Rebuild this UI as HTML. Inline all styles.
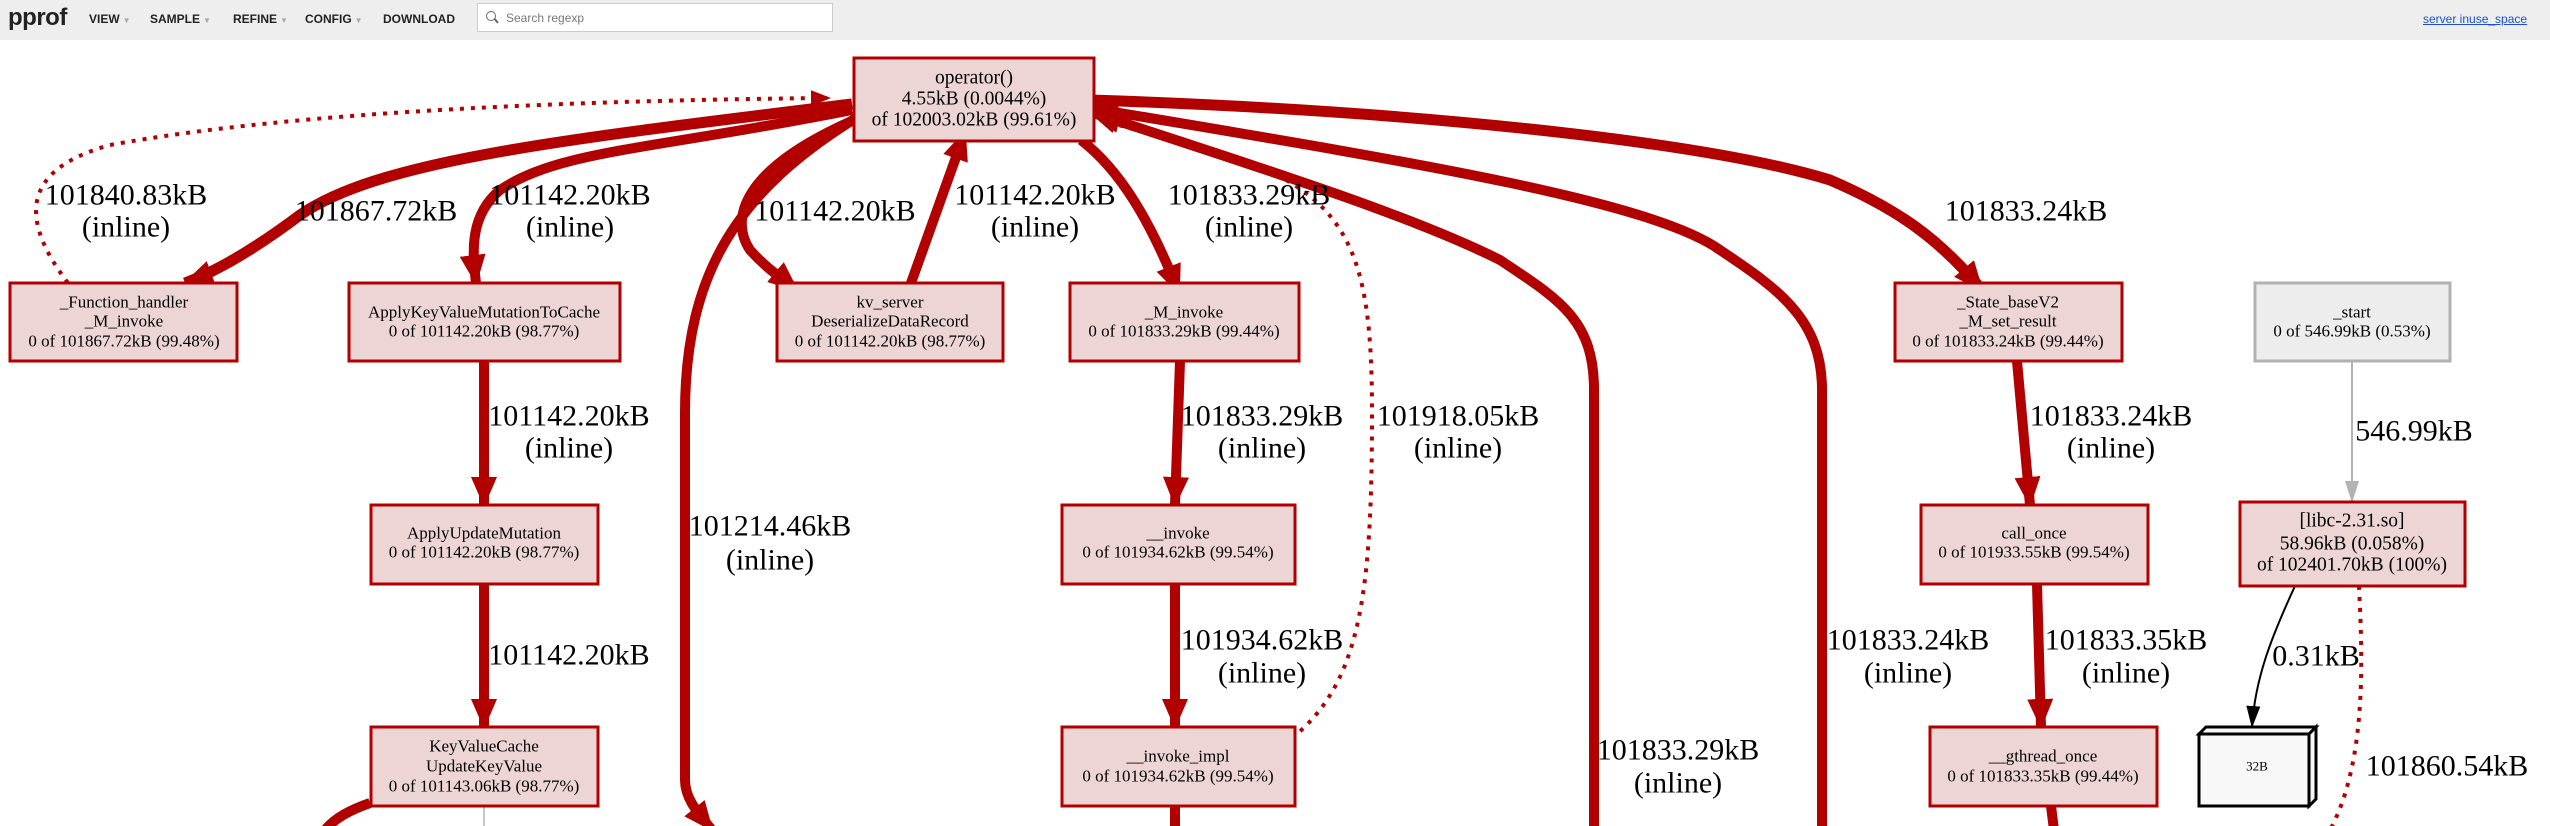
<!DOCTYPE html>
<html><head><meta charset="utf-8"><style>
html,body{margin:0;padding:0;width:2550px;height:826px;overflow:hidden;background:#fff;font-family:"Liberation Sans",sans-serif}
#hdr{position:absolute;left:0;top:0;width:2550px;height:40px;background:#eeeeee}
#hdr .logo{position:absolute;left:8px;top:4px;font-size:24px;font-weight:bold;color:#222;letter-spacing:-0.5px}
#hdr .m{position:absolute;top:12px;font-size:12px;font-weight:bold;color:#222}
#hdr .m span{color:#aaa;font-size:8px;margin-left:3px}
#srch{position:absolute;left:477px;top:3px;width:356px;height:29px;background:#fff;border:1px solid #ccc;box-sizing:border-box}
#srch .t{position:absolute;left:28px;top:7px;font-size:12px;color:#777}
#srch .g{position:absolute;left:8px;top:7px;width:8px;height:8px;border:1.5px solid #666;border-radius:50%}
#srch .h{position:absolute;left:16px;top:16px;width:5px;height:1.5px;background:#666;transform:rotate(50deg)}
#lnk{position:absolute;left:2423px;top:12px;font-size:12px;color:#1a4fd6;text-decoration:underline}
svg{position:absolute;left:0;top:0}
</style></head><body>
<div id="hdr">
<div class="logo">pprof</div>
<div class="m" style="left:89px">VIEW<span>▼</span></div>
<div class="m" style="left:150px">SAMPLE<span>▼</span></div>
<div class="m" style="left:233px">REFINE<span>▼</span></div>
<div class="m" style="left:305px">CONFIG<span>▼</span></div>
<div class="m" style="left:383px">DOWNLOAD</div>
<div id="srch"><div class="g"></div><div class="h"></div><div class="t">Search regexp</div></div>
<div id="lnk">server inuse_space</div>
</div>
<svg width="2550" height="826" viewBox="0 0 2550 826" xmlns="http://www.w3.org/2000/svg">
<defs>
<marker id="a" markerUnits="userSpaceOnUse" markerWidth="30" markerHeight="26" refX="28" refY="13" orient="auto"><path d="M0,0 L30,13 L0,26 Z" fill="#b20000"/></marker>
<marker id="as" markerUnits="userSpaceOnUse" markerWidth="20" markerHeight="16" refX="19" refY="8" orient="auto"><path d="M0,0 L20,8 L0,16 Z" fill="#b20000"/></marker>
<marker id="ag" markerUnits="userSpaceOnUse" markerWidth="22" markerHeight="14" refX="21" refY="7" orient="auto"><path d="M0,0 L22,7 L0,14 Z" fill="#b2b2b2"/></marker>
<marker id="ak" markerUnits="userSpaceOnUse" markerWidth="22" markerHeight="14" refX="21" refY="7" orient="auto"><path d="M0,0 L22,7 L0,14 Z" fill="#000"/></marker>
</defs>
<g fill="none" stroke="#b20000">
<path d="M68,283 C20,220 20,170 110,145 C300,110 600,100 830,98" stroke-width="4" stroke-dasharray="4 7" marker-end="url(#as)"/>
<path d="M852,104 C560,140 380,160 300,215 C260,245 220,270 185,283" stroke-width="11" marker-end="url(#a)"/>
<path d="M852,110 C650,150 560,150 500,190 C470,215 472,250 476,283" stroke-width="10" marker-end="url(#a)"/>
<path d="M854,120 C740,170 730,220 750,250 C770,272 785,280 797,290" stroke-width="10" marker-end="url(#a)"/>
<path d="M911,283 L965,132" stroke-width="10" marker-end="url(#a)"/>
<path d="M1081,140 C1120,170 1150,220 1179,293" stroke-width="10" marker-end="url(#a)"/>
<path d="M856,118 C740,190 685,270 685,413 L685,780 C685,800 700,815 712,830" stroke-width="10" marker-end="url(#a)"/>
<path d="M1283,745 C1360,690 1372,600 1372,413 C1372,250 1350,190 1210,150 L1100,120" stroke-width="4" stroke-dasharray="4 7" marker-end="url(#as)"/>
<path d="M1594,830 L1594,390 C1594,320 1560,300 1500,260 C1420,220 1300,180 1090,112" stroke-width="10" marker-end="url(#a)"/>
<path d="M1822,830 L1822,390 C1822,320 1780,290 1720,250 C1650,200 1400,160 1090,108" stroke-width="10" marker-end="url(#a)"/>
<path d="M1090,100 C1400,110 1700,140 1830,180 C1900,210 1940,240 1982,290" stroke-width="11" marker-end="url(#a)"/>
<path d="M484,361 L484,505" stroke-width="10" marker-end="url(#a)"/>
<path d="M484,584 L484,727" stroke-width="10" marker-end="url(#a)"/>
<path d="M1180,361 L1175,505" stroke-width="10" marker-end="url(#a)"/>
<path d="M1175,584 L1175,727" stroke-width="10" marker-end="url(#a)"/>
<path d="M1175,806 L1175,830" stroke-width="10"/>
<path d="M2017,361 L2030,505" stroke-width="10" marker-end="url(#a)"/>
<path d="M2037,584 L2041,727" stroke-width="10" marker-end="url(#a)"/>
<path d="M2051,806 L2054,830" stroke-width="10"/>
<path d="M370,803 C350,810 335,818 325,830" stroke-width="10"/>
<path d="M2359,586 C2362,650 2368,760 2330,830" stroke-width="4" stroke-dasharray="4 7"/>
</g>
<path d="M2352,361 L2352,502" stroke="#b2b2b2" stroke-width="2" fill="none" marker-end="url(#ag)"/>
<path d="M484,806 L484,826" stroke="#b2b2b2" stroke-width="1.5"/>
<path d="M2295,586 C2270,640 2255,680 2252,727" stroke="#000" stroke-width="2" fill="none" marker-end="url(#ak)"/>
<g fill="#edd5d5" stroke="#b20000" stroke-width="3">
<rect x="854" y="58" width="240" height="83"/>
<rect x="10" y="283" width="227" height="78"/>
<rect x="349" y="283" width="271" height="78"/>
<rect x="777" y="283" width="226" height="78"/>
<rect x="1070" y="283" width="229" height="78"/>
<rect x="1895" y="283" width="227" height="78"/>
<rect x="371" y="505" width="227" height="79"/>
<rect x="371" y="727" width="227" height="79"/>
<rect x="1062" y="505" width="233" height="79"/>
<rect x="1062" y="727" width="233" height="79"/>
<rect x="1921" y="505" width="227" height="79"/>
<rect x="1930" y="727" width="227" height="79"/>
<rect x="2240" y="502" width="225" height="84"/>
</g>
<rect x="2255" y="283" width="195" height="78" fill="#ededed" stroke="#b2b2b2" stroke-width="3"/>
<g stroke="#000" stroke-width="3" fill="#f8f8f8">
<rect x="2199" y="734" width="110" height="72"/>
<path d="M2199,734 L2206,727 L2316,727 L2309,734 Z"/>
<path d="M2309,734 L2316,727 L2316,799 L2309,806 Z"/>
</g>
<g font-family="Liberation Serif, serif" text-anchor="middle" dominant-baseline="central" fill="#000">
<g font-size="19.5">
<text x="974" y="78">operator()</text><text x="974" y="99">4.55kB (0.0044%)</text><text x="974" y="120">of 102003.02kB (99.61%)</text>
<text x="2352" y="521">[libc-2.31.so]</text><text x="2352" y="544">58.96kB (0.058%)</text><text x="2352" y="565">of 102401.70kB (100%)</text>
</g>
<g font-size="17">
<text x="124" y="302">_Function_handler</text><text x="124" y="321">_M_invoke</text><text x="124" y="341">0 of 101867.72kB (99.48%)</text>
<text x="484" y="312">ApplyKeyValueMutationToCache</text><text x="484" y="331">0 of 101142.20kB (98.77%)</text>
<text x="890" y="302">kv_server</text><text x="890" y="321">DeserializeDataRecord</text><text x="890" y="341">0 of 101142.20kB (98.77%)</text>
<text x="1184" y="312">_M_invoke</text><text x="1184" y="331">0 of 101833.29kB (99.44%)</text>
<text x="2008" y="302">_State_baseV2</text><text x="2008" y="321">_M_set_result</text><text x="2008" y="341">0 of 101833.24kB (99.44%)</text>
<text x="2352" y="312">_start</text><text x="2352" y="331">0 of 546.99kB (0.53%)</text>
<text x="484" y="533">ApplyUpdateMutation</text><text x="484" y="552">0 of 101142.20kB (98.77%)</text>
<text x="484" y="746">KeyValueCache</text><text x="484" y="766">UpdateKeyValue</text><text x="484" y="786">0 of 101143.06kB (98.77%)</text>
<text x="1178" y="533">__invoke</text><text x="1178" y="552">0 of 101934.62kB (99.54%)</text>
<text x="1178" y="756">__invoke_impl</text><text x="1178" y="776">0 of 101934.62kB (99.54%)</text>
<text x="2034" y="533">call_once</text><text x="2034" y="552">0 of 101933.55kB (99.54%)</text>
<text x="2043" y="756">__gthread_once</text><text x="2043" y="776">0 of 101833.35kB (99.44%)</text>
</g>
<text x="2257" y="766" font-size="13">32B</text>
<g font-size="30">
<text x="126" y="195">101840.83kB</text><text x="126" y="227">(inline)</text>
<text x="376" y="211">101867.72kB</text>
<text x="570" y="195">101142.20kB</text><text x="570" y="227">(inline)</text>
<text x="835" y="211">101142.20kB</text>
<text x="1035" y="195">101142.20kB</text><text x="1035" y="227">(inline)</text>
<text x="1249" y="195">101833.29kB</text><text x="1249" y="227">(inline)</text>
<text x="2026" y="211">101833.24kB</text>
<text x="2414" y="431">546.99kB</text>
<text x="569" y="416">101142.20kB</text><text x="569" y="448">(inline)</text>
<text x="569" y="655">101142.20kB</text>
<text x="770" y="526">101214.46kB</text><text x="770" y="560">(inline)</text>
<text x="1262" y="416">101833.29kB</text><text x="1262" y="448">(inline)</text>
<text x="1458" y="416">101918.05kB</text><text x="1458" y="448">(inline)</text>
<text x="1262" y="640">101934.62kB</text><text x="1262" y="673">(inline)</text>
<text x="2111" y="416">101833.24kB</text><text x="2111" y="448">(inline)</text>
<text x="1908" y="640">101833.24kB</text><text x="1908" y="673">(inline)</text>
<text x="2126" y="640">101833.35kB</text><text x="2126" y="673">(inline)</text>
<text x="2316" y="656">0.31kB</text>
<text x="1678" y="750">101833.29kB</text><text x="1678" y="783">(inline)</text>
<text x="2447" y="766">101860.54kB</text>
</g>
</g>
</svg>
</body></html>
